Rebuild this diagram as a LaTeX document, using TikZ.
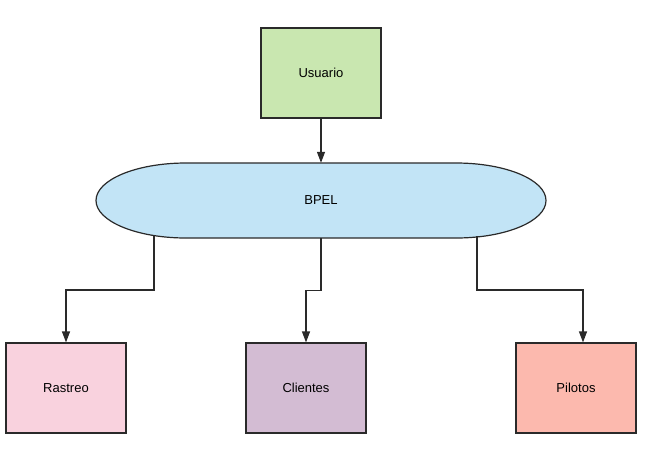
\documentclass[tikz,border=0pt]{standalone}
\usepackage{fontspec}
\setmainfont{Liberation Sans}
\usetikzlibrary{arrows.meta}

\definecolor{linea}{HTML}{2A2A2A}
\definecolor{verde}{HTML}{C9E7B0}
\definecolor{celeste}{HTML}{C2E4F6}
\definecolor{rosa}{HTML}{F9D2DE}
\definecolor{lila}{HTML}{D3BCD3}
\definecolor{salmon}{HTML}{FCB9AE}

\begin{document}
\begin{tikzpicture}[x=1pt,y=-1pt,
  caja/.style={draw=linea,line width=1.2pt,minimum width=120pt,minimum height=90pt,inner sep=0pt,font=\fontsize{13}{15}\selectfont},
  flecha/.style={draw=linea,line width=1.2pt,-{Triangle[width=8pt,length=11pt]}}]

\useasboundingbox (0,0) rectangle (645,459);

% cajas
\node[caja,fill=verde]  (usuario)  at (321,73)  {Usuario};
\node[caja,fill=rosa]   (rastreo)  at (66,388)  {Rastreo};
\node[caja,fill=lila]   (clientes) at (306,388) {Clientes};
\node[caja,fill=salmon] (pilotos)  at (576,388) {Pilotos};

% BPEL
\draw[linea,line width=1.2pt,fill=celeste] (186,163) -- (456,163)
    arc[start angle=-90,end angle=90,x radius=90,y radius=37.5] -- (186,238)
    arc[start angle=90,end angle=270,x radius=90,y radius=37.5] -- cycle;
\node[minimum width=450pt,minimum height=75pt,inner sep=0pt,font=\fontsize{13}{15}\selectfont] (bpel) at (321,200.5) {BPEL};

\coordinate (b1) at (154,236);
\coordinate (b2) at (477,236);

% conexiones
\draw[flecha] (usuario.south) -- (bpel.north);
\draw[flecha] (b1) -- ++(0,54) -| (rastreo.north);
\draw[flecha] (bpel.south) -- ++(0,52) -| (clientes.north);
\draw[flecha] (b2) -- ++(0,54) -| ([xshift=7pt]pilotos.north);

\end{tikzpicture}
\end{document}
